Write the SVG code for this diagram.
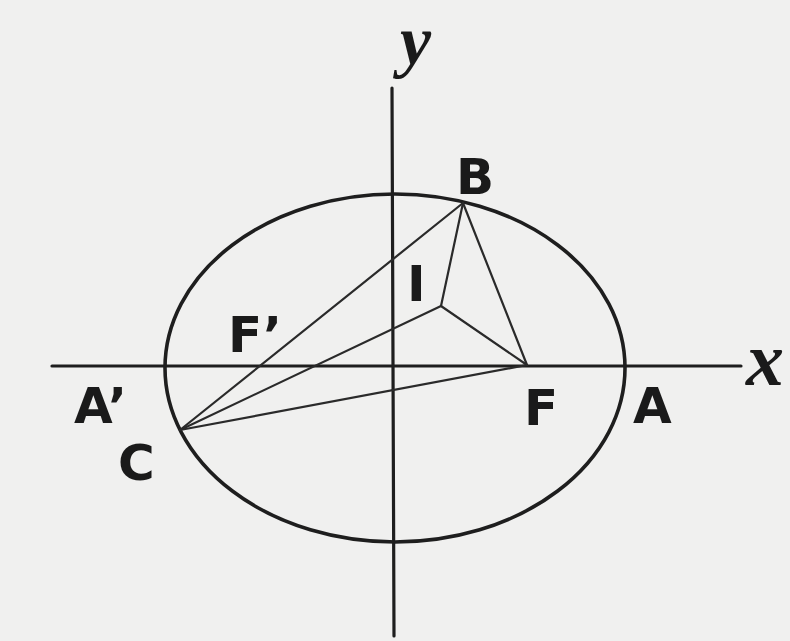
<svg xmlns="http://www.w3.org/2000/svg" width="790" height="641" viewBox="0 0 790 641">
<style>
.ax{stroke:#1e1e1e;stroke-width:3.2;fill:none;stroke-linecap:round}
.el{stroke:#1e1e1e;stroke-width:3.6;fill:none}
.ln{stroke:#2a2a2a;stroke-width:2.2;fill:none;stroke-linecap:round}
.lb{font-family:"DejaVu Sans",sans-serif;font-weight:bold;font-size:50px;fill:#1a1a1a}
.it{font-family:"Liberation Serif",serif;font-style:italic;font-weight:bold;fill:#1a1a1a}
</style>
<rect width="790" height="641" fill="#f0f0ef"/>
<g id="axes">
<line class="ax" x1="52" y1="366" x2="741" y2="366"/>
<line class="ax" x1="392" y1="88" x2="394" y2="636"/>
</g>
<g id="ellipse"><ellipse class="el" cx="395" cy="368" rx="230" ry="174"/></g>
<g id="connectors">
<line class="ln" x1="180" y1="430" x2="463" y2="203"/>
<line class="ln" x1="180" y1="430" x2="441" y2="306"/>
<line class="ln" x1="180" y1="430" x2="527" y2="365"/>
<line class="ln" x1="463" y1="203" x2="441" y2="306"/>
<line class="ln" x1="463" y1="203" x2="527" y2="365"/>
<line class="ln" x1="441" y1="306" x2="527" y2="365"/>
</g>
<g id="labels">
<text class="it" x="400" y="64" font-size="70">y</text>
<text class="it" x="746" y="385" font-size="76">x</text>
<text class="lb" x="456" y="194">B</text>
<text class="lb" x="407" y="301">I</text>
<text class="lb" x="228" y="352">F’</text>
<text class="lb" x="74" y="423">A’</text>
<text class="lb" x="524" y="425">F</text>
<text class="lb" x="633" y="423">A</text>
<text class="lb" x="118" y="480">C</text>
</g>
</svg>
